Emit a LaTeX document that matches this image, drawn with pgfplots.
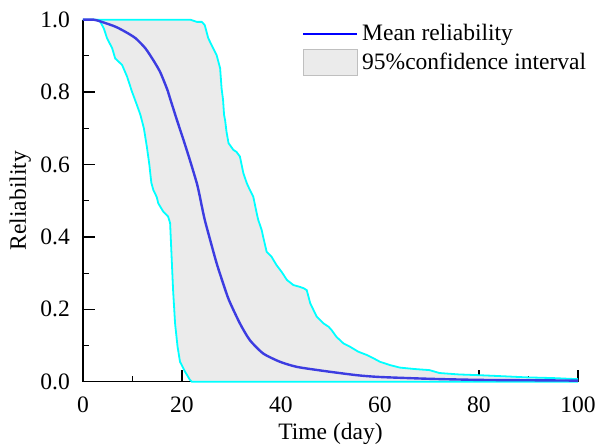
\documentclass[border=0pt]{standalone}
\usepackage{fontspec}
\setmainfont{Liberation Serif}
\usepackage{pgfplots}
\pgfplotsset{compat=1.18}
\definecolor{cibound}{RGB}{0,255,255}
\definecolor{meanblue}{RGB}{60,60,225}
\definecolor{meanleg}{RGB}{0,0,255}
\definecolor{cifill}{RGB}{235,235,235}
\begin{document}
\fontsize{11.8}{14}\selectfont
\begin{tikzpicture}
\path[use as bounding box] (-41.5bp,-31.65bp) rectangle (256bp,190.85bp);
\begin{axis}[
  scale only axis, width=247.5bp, height=181bp,
  at={(0,0)}, anchor=south west,
  xmin=0, xmax=100, ymin=0, ymax=1,
  clip=false,
  axis x line*=bottom, axis y line*=left,
  axis line style={-, line width=0.75bp},
  xtick={0,20,40,60,80,100}, ytick={0,0.2,0.4,0.6,0.8,1.0},
  minor x tick num=1, minor y tick num=1,
  tick align=inside, major tick length=5.8bp, minor tick length=2.8bp,
  tick style={black, line width=0.6bp},
  /pgf/number format/assume math mode=true,
  xticklabel={\pgfmathprintnumber{\tick}},
  yticklabel={\pgfmathprintnumber[fixed,fixed zerofill,precision=1]{\tick}},
  ticklabel style={font=\fontsize{11.8}{14}\selectfont},
  xticklabel style={yshift=-3.5bp},
  yticklabel style={xshift=-2.5bp},
  xlabel={Time (day)}, ylabel={Reliability},
  label style={font=\fontsize{11.8}{14}\selectfont},
  xlabel style={at={(axis description cs:0.5,0)}, anchor=north, inner sep=0pt, yshift=-20.5bp},
  ylabel style={at={(axis description cs:-0.127,0.5)}, anchor=center, inner sep=0pt},
  legend style={at={(0.442,1.0)}, anchor=north west, draw=none, fill=none, inner sep=0pt,
    font=\fontsize{11.8}{14}\selectfont, row sep=0.5bp},
  legend cell align=left,
]
\addplot[fill=cifill, draw=none, forget plot] coordinates {
(0,1) (21.7,1) (23.0,0.994) (24.0,0.994) (24.6,0.985) (25.3,0.949) (26.3,0.921)
(27.0,0.902) (27.7,0.866) (28.0,0.81) (28.3,0.778) (28.5,0.737) (28.7,0.723)
(29.0,0.69) (29.4,0.659) (30.4,0.64) (31.0,0.635) (31.7,0.622) (32.4,0.576)
(33.1,0.548) (33.7,0.53) (34.4,0.511) (35.1,0.465) (35.4,0.447) (36.1,0.419)
(36.4,0.40) (37.1,0.359) (38.1,0.345) (39.1,0.322) (40.1,0.304) (41.2,0.281)
(42.5,0.267) (43.8,0.262) (44.6,0.258) (45.2,0.253) (45.9,0.217) (47.2,0.18)
(48.6,0.161) (49.6,0.152) (50.2,0.143) (51.2,0.124) (52.6,0.106) (53.9,0.097)
(55.6,0.083) (57.3,0.074) (58.5,0.066) (60,0.055) (62,0.046) (64,0.039)
(67,0.035) (70,0.032) (72,0.024) (76,0.020) (80,0.018) (85,0.015)
(89.6,0.012) (95,0.010) (100,0.007)
(100,0) (22.0,0) (21.6,0.005) (20.6,0.028) (19.6,0.055) (19.1,0.097) (18.6,0.161)
(18.2,0.253) (17.9,0.345) (17.6,0.438) (17.2,0.456) (16.2,0.47) (15.2,0.493)
(14.9,0.51) (14.2,0.53) (13.8,0.55) (13.4,0.60) (12.9,0.649) (12.3,0.70)
(11.6,0.737) (10.9,0.764) (9.9,0.801) (8.9,0.843) (7.9,0.875) (6.5,0.893)
(5.9,0.921) (4.85,0.949) (4.2,0.976) (3.5,0.994) (2.8,1) (0,1)
};
\addplot[cibound, line width=0.9bp, forget plot] coordinates {
(0,1) (21.7,1) (23.0,0.994) (24.0,0.994) (24.6,0.985) (25.3,0.949) (26.3,0.921)
(27.0,0.902) (27.7,0.866) (28.0,0.81) (28.3,0.778) (28.5,0.737) (28.7,0.723)
(29.0,0.69) (29.4,0.659) (30.4,0.64) (31.0,0.635) (31.7,0.622) (32.4,0.576)
(33.1,0.548) (33.7,0.53) (34.4,0.511) (35.1,0.465) (35.4,0.447) (36.1,0.419)
(36.4,0.40) (37.1,0.359) (38.1,0.345) (39.1,0.322) (40.1,0.304) (41.2,0.281)
(42.5,0.267) (43.8,0.262) (44.6,0.258) (45.2,0.253) (45.9,0.217) (47.2,0.18)
(48.6,0.161) (49.6,0.152) (50.2,0.143) (51.2,0.124) (52.6,0.106) (53.9,0.097)
(55.6,0.083) (57.3,0.074) (58.5,0.066) (60,0.055) (62,0.046) (64,0.039)
(67,0.035) (70,0.032) (72,0.024) (76,0.020) (80,0.018) (85,0.015)
(89.6,0.012) (95,0.010) (100,0.007)
};
\addplot[cibound, line width=0.9bp, forget plot] coordinates {
(0,1) (2.8,1) (3.5,0.994) (4.2,0.976) (4.85,0.949) (5.9,0.921) (6.5,0.893)
(7.9,0.875) (8.9,0.843) (9.9,0.801) (10.9,0.764) (11.6,0.737) (12.3,0.70)
(12.9,0.649) (13.4,0.60) (13.8,0.55) (14.2,0.53) (14.9,0.51) (15.2,0.493)
(16.2,0.47) (17.2,0.456) (17.6,0.438) (17.9,0.345) (18.2,0.253) (18.6,0.161)
(19.1,0.097) (19.6,0.055) (20.6,0.028) (21.6,0.005) (22.0,0) (100,0)
};
\addplot[meanblue, line width=1.2bp, smooth, tension=0.4, forget plot] coordinates {
(0,1) (2.2,1.0) (3.8,0.994) (6.5,0.981) (8.5,0.967) (10.6,0.949) (12.6,0.921)
(14.3,0.886) (15.6,0.855) (17.0,0.808) (17.6,0.782) (18.3,0.752) (18.9,0.726)
(20.3,0.668) (21.6,0.612) (23.0,0.548) (23.6,0.512) (24.0,0.485) (24.6,0.447)
(25.7,0.391) (27.0,0.327) (28.3,0.272) (29.5,0.225) (31.7,0.161)
(33.7,0.115) (36.4,0.078) (39.8,0.055) (43.2,0.041) (48.5,0.030) (55.3,0.018)
(60,0.013) (70,0.008) (80,0.005) (90,0.004) (100,0.003)
};
\addlegendimage{legend image code/.code={\draw[meanleg, line width=1bp] (0bp,0bp) -- (27bp,0bp);}}
\addlegendentry{Mean reliability}
\addlegendimage{legend image code/.code={\draw[fill=cifill, draw=gray!50, line width=0.5bp] (0bp,-6.5bp) rectangle (27bp,6.5bp);}}
\addlegendentry{95\%confidence interval}
\end{axis}
\end{tikzpicture}
\end{document}
